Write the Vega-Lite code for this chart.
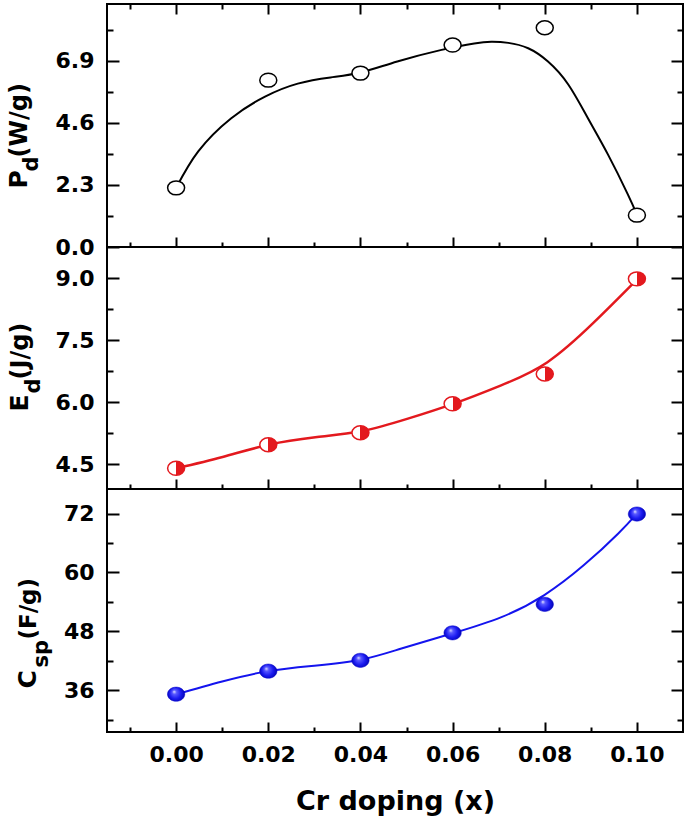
{
  "$schema": "https://vega.github.io/schema/vega-lite/v6.json",
  "padding": {"left": 5, "top": 2, "right": 2, "bottom": 5},
  "spacing": 0,
  "bounds": "flush",
  "config": {
    "font": "DejaVu Sans",
    "view": {"stroke": "black", "strokeWidth": 2},
    "axis": {
      "domain": false, "grid": false, "tickColor": "black", "tickWidth": 2,
      "labelFont": "DejaVu Sans", "labelFontWeight": "bold", "labelFontSize": 22, "labelColor": "black",
      "titleFont": "DejaVu Sans", "titleFontWeight": "bold", "titleColor": "black", "labelOverlap": false
    }
  },
  "datasets": {
    "pd_pts": [
      {"x": 0.0, "y": 2.19}, {"x": 0.02, "y": 6.18}, {"x": 0.04, "y": 6.44},
      {"x": 0.06, "y": 7.48}, {"x": 0.08, "y": 8.12}, {"x": 0.1, "y": 1.18}
    ],
    "pd_fit": [
      {"x": 0.0, "y": 2.19}, {"x": 0.0048, "y": 3.54}, {"x": 0.0119, "y": 4.76}, {"x": 0.0193, "y": 5.57},
      {"x": 0.0264, "y": 6.05}, {"x": 0.0335, "y": 6.28}, {"x": 0.04, "y": 6.46}, {"x": 0.048, "y": 6.87},
      {"x": 0.0576, "y": 7.3}, {"x": 0.0647, "y": 7.54}, {"x": 0.0684, "y": 7.6}, {"x": 0.0721, "y": 7.56},
      {"x": 0.0764, "y": 7.36}, {"x": 0.0807, "y": 6.87}, {"x": 0.0851, "y": 6.02}, {"x": 0.0894, "y": 4.76},
      {"x": 0.0937, "y": 3.43}, {"x": 0.098, "y": 1.96}, {"x": 0.1, "y": 1.2}
    ],
    "ed_pts": [
      {"x": 0.0, "y": 4.4}, {"x": 0.02, "y": 4.97}, {"x": 0.04, "y": 5.26},
      {"x": 0.06, "y": 5.96}, {"x": 0.08, "y": 6.68}, {"x": 0.1, "y": 8.98}
    ],
    "ed_fit": [
      {"x": 0.0, "y": 4.4}, {"x": 0.0101, "y": 4.675}, {"x": 0.0201, "y": 4.97}, {"x": 0.0302, "y": 5.15},
      {"x": 0.0403, "y": 5.3}, {"x": 0.0503, "y": 5.6}, {"x": 0.0604, "y": 5.97}, {"x": 0.0704, "y": 6.4},
      {"x": 0.0805, "y": 6.96}, {"x": 0.0906, "y": 7.92}, {"x": 0.1, "y": 8.96}
    ],
    "cs_pts": [
      {"x": 0.0, "y": 35.2}, {"x": 0.02, "y": 39.9}, {"x": 0.04, "y": 42.1},
      {"x": 0.06, "y": 47.7}, {"x": 0.08, "y": 53.5}, {"x": 0.1, "y": 71.9}
    ],
    "cs_fit": [
      {"x": 0.0, "y": 35.2}, {"x": 0.01, "y": 37.8}, {"x": 0.02, "y": 39.9}, {"x": 0.03, "y": 41.0},
      {"x": 0.04, "y": 42.2}, {"x": 0.0489, "y": 44.5}, {"x": 0.06, "y": 47.6}, {"x": 0.0706, "y": 50.9},
      {"x": 0.0799, "y": 55.4}, {"x": 0.0885, "y": 61.5}, {"x": 0.0959, "y": 67.9}, {"x": 0.1, "y": 72.0}
    ]
  },
  "vconcat": [
    {
      "width": 576, "height": 243,
      "layer": [
        {
          "data": {"name": "pd_fit"},
          "mark": {"type": "line", "color": "black", "strokeWidth": 2, "interpolate": "natural"},
          "encoding": {
            "x": {"field": "x", "type": "quantitative", "scale": {"domain": [-0.015, 0.11]},
              "axis": {"orient": "bottom", "values": [-0.01,0,0.01,0.02,0.03,0.04,0.05,0.06,0.07,0.08,0.09,0.1], "labels": false, "title": null,
                "tickSize": {"condition": {"test": "abs(datum.value*50 - round(datum.value*50)) < 0.001", "value": -10}, "value": -5}}},
            "y": {"field": "y", "type": "quantitative", "scale": {"domain": [0, 9], "nice": false, "zero": false},
              "axis": {"orient": "left", "values": [0,1.15,2.3,3.45,4.6,5.75,6.9,8.05], "format": ".1f",
                "labelExpr": "abs(datum.value/2.3 - round(datum.value/2.3)) < 0.01 ? datum.label : ''",
                "labelPadding": 25,
                "tickSize": {"condition": {"test": "abs(datum.value/2.3 - round(datum.value/2.3)) < 0.01", "value": -12}, "value": -6},
                "title": "P", "titleX": -81, "titleY": 184, "titleAngle": 270, "titleAlign": "left", "titleBaseline": "alphabetic", "titleFontSize": 25}}
          }
        },
        {
          "data": {"name": "pd_pts"},
          "mark": {"type": "point", "shape": "M-1,0A1,0.82,0,1,0,1,0A1,0.82,0,1,0,-1,0Z", "size": 289, "filled": true, "fill": "white", "stroke": "black", "strokeWidth": 1.5, "opacity": 1},
          "encoding": {
            "x": {"field": "x", "type": "quantitative", "scale": {"domain": [-0.015, 0.11]},
              "axis": {"orient": "top", "values": [-0.01,0,0.01,0.02,0.03,0.04,0.05,0.06,0.07,0.08,0.09,0.1], "labels": false,
                "tickSize": {"condition": {"test": "abs(datum.value*50 - round(datum.value*50)) < 0.001", "value": -10}, "value": -5},
                "title": "(W/g)", "titleX": -81, "titleY": 153, "titleAngle": 270, "titleAlign": "left", "titleBaseline": "alphabetic", "titleFontSize": 24}},
            "y": {"field": "y", "type": "quantitative", "scale": {"domain": [0, 9], "nice": false, "zero": false},
              "axis": {"orient": "right", "values": [0,1.15,2.3,3.45,4.6,5.75,6.9,8.05], "labels": false,
                "tickSize": {"condition": {"test": "abs(datum.value/2.3 - round(datum.value/2.3)) < 0.01", "value": -12}, "value": -6},
                "title": "d", "titleX": -646, "titleY": 167, "titleAngle": 270, "titleAlign": "left", "titleBaseline": "alphabetic", "titleFontSize": 21}}
          }
        }
      ],
      "resolve": {"axis": {"x": "independent", "y": "independent"}}
    },
    {
      "width": 576, "height": 242,
      "layer": [
        {
          "data": {"name": "ed_fit"},
          "mark": {"type": "line", "color": "#e3191e", "strokeWidth": 2.5, "interpolate": "natural"},
          "encoding": {
            "x": {"field": "x", "type": "quantitative", "scale": {"domain": [-0.015, 0.11]},
              "axis": {"orient": "bottom", "values": [-0.01,0,0.01,0.02,0.03,0.04,0.05,0.06,0.07,0.08,0.09,0.1], "labels": false, "title": null,
                "tickSize": {"condition": {"test": "abs(datum.value*50 - round(datum.value*50)) < 0.001", "value": -10}, "value": -5}}},
            "y": {"field": "y", "type": "quantitative", "scale": {"domain": [3.9, 9.75], "nice": false, "zero": false},
              "axis": {"orient": "left", "values": [4.5,5.25,6,6.75,7.5,8.25,9], "format": ".1f",
                "labelExpr": "abs(datum.value/1.5 - round(datum.value/1.5)) < 0.01 ? datum.label : ''",
                "labelPadding": 25,
                "tickSize": {"condition": {"test": "abs(datum.value/1.5 - round(datum.value/1.5)) < 0.01", "value": -12}, "value": -6},
                "title": "E", "titleX": -80, "titleY": 164, "titleAngle": 270, "titleAlign": "left", "titleBaseline": "alphabetic", "titleFontSize": 25}}
          }
        },
        {
          "data": {"name": "ed_pts"},
          "mark": {"type": "point", "shape": "M-1,0A1,0.82,0,1,0,1,0A1,0.82,0,1,0,-1,0Z", "size": 289, "filled": true, "opacity": 1,
            "fill": {"gradient": "linear", "x1": 0, "y1": 0, "x2": 1, "y2": 0, "stops": [{"offset": 0, "color": "white"}, {"offset": 0.5, "color": "white"}, {"offset": 0.5, "color": "#e3191e"}, {"offset": 1, "color": "#e3191e"}]},
            "stroke": "#e3191e", "strokeWidth": 1.5},
          "encoding": {
            "x": {"field": "x", "type": "quantitative", "scale": {"domain": [-0.015, 0.11]},
              "axis": {"orient": "top", "labels": false, "ticks": false,
                "title": "(J/g)", "titleX": -80, "titleY": 132, "titleAngle": 270, "titleAlign": "left", "titleBaseline": "alphabetic", "titleFontSize": 24}},
            "y": {"field": "y", "type": "quantitative", "scale": {"domain": [3.9, 9.75], "nice": false, "zero": false},
              "axis": {"orient": "right", "values": [4.5,5.25,6,6.75,7.5,8.25,9], "labels": false,
                "tickSize": {"condition": {"test": "abs(datum.value/1.5 - round(datum.value/1.5)) < 0.01", "value": -12}, "value": -6},
                "title": "d", "titleX": -644, "titleY": 146, "titleAngle": 270, "titleAlign": "left", "titleBaseline": "alphabetic", "titleFontSize": 21}}
          }
        }
      ],
      "resolve": {"axis": {"x": "independent", "y": "independent"}}
    },
    {
      "width": 576, "height": 243,
      "layer": [
        {
          "data": {"name": "cs_fit"},
          "mark": {"type": "line", "color": "#1414ee", "strokeWidth": 2, "interpolate": "natural"},
          "encoding": {
            "x": {"field": "x", "type": "quantitative", "scale": {"domain": [-0.015, 0.11]},
              "axis": {"orient": "bottom", "values": [-0.01,0,0.01,0.02,0.03,0.04,0.05,0.06,0.07,0.08,0.09,0.1], "format": ".2f",
                "labelExpr": "abs(datum.value*50 - round(datum.value*50)) < 0.001 ? datum.label : ''",
                "labelPadding": 22,
                "tickSize": {"condition": {"test": "abs(datum.value*50 - round(datum.value*50)) < 0.001", "value": -10}, "value": -5},
                "title": "Cr doping (x)", "titleFontSize": 27, "titlePadding": 18}},
            "y": {"field": "y", "type": "quantitative", "scale": {"domain": [27.5, 77], "nice": false, "zero": false},
              "axis": {"orient": "left", "values": [30,36,42,48,54,60,66,72], "format": "d",
                "labelExpr": "datum.value % 12 == 0 ? datum.label : ''",
                "labelPadding": 25,
                "tickSize": {"condition": {"test": "datum.value % 12 == 0", "value": -12}, "value": -6},
                "title": "C", "titleX": -72, "titleY": 199, "titleAngle": 270, "titleAlign": "left", "titleBaseline": "alphabetic", "titleFontSize": 25}}
          }
        },
        {
          "data": {"name": "cs_pts"},
          "mark": {"type": "point", "shape": "M-1,0A1,0.82,0,1,0,1,0A1,0.82,0,1,0,-1,0Z", "size": 300, "filled": true, "opacity": 1,
            "fill": {"gradient": "radial", "x1": 0.38, "y1": 0.35, "r1": 0, "x2": 0.5, "y2": 0.5, "r2": 0.55, "stops": [{"offset": 0, "color": "#e8e8ff"}, {"offset": 0.22, "color": "#5a5aff"}, {"offset": 0.6, "color": "#1a1af0"}, {"offset": 1, "color": "#0000a8"}]},
            "stroke": "#0000c8", "strokeWidth": 0.5},
          "encoding": {
            "x": {"field": "x", "type": "quantitative", "scale": {"domain": [-0.015, 0.11]},
              "axis": {"orient": "top", "labels": false, "ticks": false,
                "title": "(F/g)", "titleX": -72, "titleY": 150, "titleAngle": 270, "titleAlign": "left", "titleBaseline": "alphabetic", "titleFontSize": 23}},
            "y": {"field": "y", "type": "quantitative", "scale": {"domain": [27.5, 77], "nice": false, "zero": false},
              "axis": {"orient": "right", "values": [30,36,42,48,54,60,66,72], "labels": false,
                "tickSize": {"condition": {"test": "datum.value % 12 == 0", "value": -12}, "value": -6},
                "title": "sp", "titleX": -636, "titleY": 178, "titleAngle": 270, "titleAlign": "left", "titleBaseline": "alphabetic", "titleFontSize": 21}}
          }
        }
      ],
      "resolve": {"axis": {"x": "independent", "y": "independent"}}
    }
  ]
}
